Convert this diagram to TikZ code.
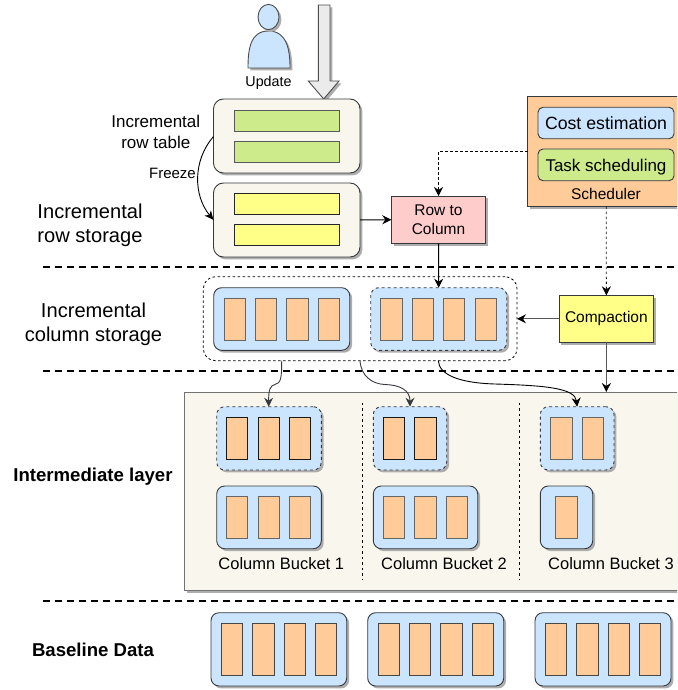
\documentclass[tikz,border=0pt]{standalone}
\usepackage{fontspec}
\setmainfont{Liberation Sans}
\usetikzlibrary{arrows.meta,shadows,calc}
\definecolor{cream}{HTML}{F9F7ED}
\definecolor{lblue}{HTML}{CCE5FF}
\definecolor{lorange}{HTML}{FFCC99}
\definecolor{lgreen}{HTML}{CDEB8B}
\definecolor{lyellow}{HTML}{FFFF88}
\definecolor{lpink}{HTML}{FFCCCC}
\definecolor{edge}{HTML}{36393D}
\tikzset{
  x=1pt,y=-1pt,
  base/.style={inner sep=0pt,outer sep=0pt,line width=0.9pt,draw=edge},
  shad/.style={drop shadow={shadow xshift=2.4pt,shadow yshift=-2.4pt,fill=black!32,opacity=1}},
  col/.style={base,draw=black!60,fill=lorange},
  colk/.style={base,draw=black!90,fill=lorange},
  cole/.style={base,draw=black!72,fill=lorange},
  blockb/.style={base,rectangle,rounded corners=8pt,fill=lblue,shad},
  blockd/.style={base,rectangle,rounded corners=8pt,fill=lblue,dash pattern=on 3pt off 3pt,shad},
  tray/.style={base,rectangle,rounded corners=10pt,fill=cream,shad},
  bar/.style={base,draw=black!65},
  proc/.style={base,shad,align=center},
  innerb/.style={base,rectangle,rounded corners=5pt,align=center},
  lab/.style={inner sep=0pt,outer sep=0pt,align=center},
  sep/.style={line width=1.5pt,dash pattern=on 6.5pt off 5.5pt},
  vsep/.style={line width=0.8pt,dash pattern=on 2.5pt off 3pt},
  flow/.style={line width=1pt,draw=black,-{Stealth[length=9pt,width=9pt,inset=3pt]}},
  flowg/.style={line width=1pt,draw=black!65,-{Stealth[length=9pt,width=9pt,inset=3pt,color=black]}},
  dflow/.style={line width=0.8pt,draw=black,dash pattern=on 2.5pt off 2.5pt,-{Stealth[length=9pt,width=9pt,inset=3pt,color=black]}},
  curve/.style={line width=0.9pt,draw=edge,-{Stealth[length=9pt,width=9pt,inset=3pt]}},
}
% \bx{name}{x1}{y1}{x2}{y2}{style}{text}
\newcommand{\bx}[7]{%
  \pgfmathsetmacro{\bxw}{#4-#2}\pgfmathsetmacro{\bxh}{#5-#3}%
  \pgfmathsetmacro{\bxcx}{(#2+#4)/2}\pgfmathsetmacro{\bxcy}{(#3+#5)/2}%
  \node[#6,minimum width=\bxw pt,minimum height=\bxh pt] (#1) at (\bxcx,\bxcy) {#7};}
\newcommand{\txt}[5]{\node[lab,font=\fontsize{#4}{#5}\selectfont] (#1) at (#2,#3)}
\begin{document}
\begin{tikzpicture}
\useasboundingbox (0,0) rectangle (677,690);
\clip (0,0) rectangle (677,690);

% separators
\coordinate (s1a) at (43,266.8); \coordinate (s1b) at (677,266.8);
\coordinate (s2a) at (43,371); \coordinate (s2b) at (677,371);
\coordinate (s3a) at (43,601); \coordinate (s3b) at (677,601);
\draw[sep] (s1a) -- (s1b);
\draw[sep] (s2a) -- (s2b);
\draw[sep] (s3a) -- (s3b);

% user
\path[base,fill=lblue,draw=black!70,shad] (248,68) .. controls (248,50) and (250,31) .. (268.5,31) .. controls (287,31) and (290,50) .. (290,68) -- cycle;
\node[base,fill=lblue,draw=black!70,shape=circle,minimum size=21pt,yscale=1.2,shad] (head) at (268.5,17) {};
\txt{upd}{268.5}{82.5}{14.3}{17}{Update};

% big arrow
\path[base,fill=black!8,draw=black!70,shad] (318.3,5) -- (330,5) -- (330,81) -- (339,81) -- (323.7,99) -- (308.3,81) -- (318.3,81) -- cycle;

% trays
\bx{t1}{213.5}{99}{360}{173}{tray}{}
\bx{g1}{234.5}{110}{339.5}{131}{bar,fill=lgreen}{}
\bx{g2}{234.5}{141}{339.5}{162}{bar,fill=lgreen}{}
\bx{t2}{213.5}{183}{360}{257}{tray}{}
\bx{y1}{234.5}{193.5}{339.5}{214.5}{bar,draw=black!85,fill=lyellow}{}
\bx{y2}{234.5}{224.5}{339.5}{245.5}{bar,draw=black!85,fill=lyellow}{}
\txt{irt}{155.8}{131.5}{17}{21}{Incremental\\row table};
\txt{frz}{172.5}{173}{15}{17}{Freeze};
\coordinate (t1w) at (213.5,136.5);
\draw[line width=0.9pt,-{Stealth[length=9pt,width=8pt,inset=2.5pt]}] (t1w) .. controls (193,160) and (193,195) .. (t2.west);

% row to column
\bx{r2c}{391.3}{196}{485.7}{243.3}{proc,fill=lpink,font=\fontsize{15.5}{19.5}\selectfont}{Row to\\Column}
\draw[flow] (t2) -- (r2c);

% scheduler
\bx{sch}{527.7}{96.7}{690}{206.7}{proc,fill=lorange}{}
\bx{cost}{538}{107.3}{674}{138.7}{innerb,fill=lblue,font=\fontsize{17.7}{20}\selectfont}{Cost estimation}
\bx{task}{538}{149}{674}{180.7}{innerb,fill=lgreen,text depth=0pt,font=\fontsize{17}{20}\selectfont}{Task scheduling}
\txt{schl}{606}{193.5}{15.5}{18}{Scheduler};
\coordinate (schw) at (527.7,151.5);
\draw[dflow] (schw) -| (r2c.north);

% incremental column storage
\bx{outer}{203.3}{276.7}{517}{360.7}{base,rectangle,rounded corners=12pt,draw=black,line width=0.8pt,dash pattern=on 2.5pt off 2.5pt}{}
\bx{ba}{213.7}{287.7}{349.7}{350.3}{blockb}{}
\bx{ba1}{224}{298}{245.3}{340}{col}{}
\bx{ba2}{255.3}{298}{276.7}{340}{col}{}
\bx{ba3}{286.7}{298}{308}{340}{col}{}
\bx{ba4}{318}{298}{339.3}{340}{col}{}
\bx{bb}{370.7}{287.7}{506.7}{350.3}{blockd}{}
\bx{bb1}{380.7}{298}{402}{340}{col}{}
\bx{bb2}{412}{298}{433.3}{340}{col}{}
\bx{bb3}{443.3}{298}{464.7}{340}{col}{}
\bx{bb4}{475}{298}{496.3}{340}{col}{}
\draw[flow] (r2c.south) -- (bb.north);

% compaction
\bx{cmp}{559}{295.3}{653.7}{342.3}{proc,fill=lyellow,font=\fontsize{15.5}{19}\selectfont}{Compaction}
\coordinate (schs) at (606.3,206.7);
\draw[dflow,draw=black!90] (schs) -- (cmp.north);
\draw[flowg] (cmp.west) -- (cmp.west -| outer.east);

% intermediate layer
\bx{mid}{184.7}{392}{700}{590.7}{base,draw=black!55,fill=cream,shad}{}
\coordinate (v1a) at (362.7,402.7); \coordinate (v1b) at (362.7,580);
\coordinate (v2a) at (519.3,402.7); \coordinate (v2b) at (519.3,580);
\draw[vsep] (v1a) -- (v1b);
\draw[vsep] (v2a) -- (v2b);
\draw[flowg] (cmp.south) -- (cmp.south |- mid.north);

\bx{c1}{216.7}{406.7}{321.3}{470}{blockd}{}
\bx{c11}{226.7}{417.3}{247.7}{459}{colk}{}
\bx{c12}{258}{417.3}{279.3}{459}{colk}{}
\bx{c13}{289.3}{417.3}{310.7}{459}{colk}{}
\bx{d1}{216.7}{486}{321.3}{548.7}{blockb}{}
\bx{d11}{226.7}{496.7}{247.7}{538.3}{col}{}
\bx{d12}{258}{496.7}{279.3}{538.3}{col}{}
\bx{d13}{289.3}{496.7}{310.7}{538.3}{col}{}
\bx{c2}{373.3}{406.7}{446.7}{470}{blockd}{}
\bx{c21}{383.3}{417.3}{404.7}{459}{colk}{}
\bx{c22}{414.7}{417.3}{436}{459}{colk}{}
\bx{d2}{373.3}{486}{477.7}{548.7}{blockb}{}
\bx{d21}{383.3}{496.7}{404.7}{538.3}{col}{}
\bx{d22}{414.7}{496.7}{436}{538.3}{col}{}
\bx{d23}{446}{496.7}{467.3}{538.3}{col}{}
\bx{c3}{540.3}{406.7}{614}{470}{blockd}{}
\bx{c31}{550.7}{417.3}{572}{459}{col}{}
\bx{c32}{582}{417.3}{603.3}{459}{col}{}
\bx{d3}{540.3}{486}{592.7}{548.7}{blockb}{}
\bx{d31}{555.7}{496.7}{577.3}{538.3}{col}{}
\txt{cb1}{281.3}{563.5}{16.5}{19}{Column Bucket 1};
\txt{cb2}{444}{563.5}{16.5}{19}{Column Bucket 2};
\txt{cb3}{611}{563.5}{16.5}{19}{Column Bucket 3};

% curved connectors
\coordinate (o1) at (281.7,360.7);
\coordinate (o2) at (360,360.7);
\coordinate (o3) at (438.3,360.7);
\draw[curve] (o1) .. controls (281.7,378) and (281,383) .. (275,384.5) .. controls (270,385.5) and (268.6,390) .. (c1.north -| c12);
\draw[curve] (o2) .. controls (361,376) and (372,384) .. (385,384.5) .. controls (400,385) and (410,390) .. (c2.north);
\draw[curve,draw=black] (o3) .. controls (439,375) and (460,383) .. (495,384) .. controls (545,385.5) and (575,388) .. (c3.north);

% baseline
\bx{e1}{211}{612.7}{346.7}{686}{blockb}{}
\bx{e11}{221.3}{623.3}{242.7}{675.3}{cole}{}
\bx{e12}{252.7}{623.3}{274}{675.3}{cole}{}
\bx{e13}{284}{623.3}{305.3}{675.3}{cole}{}
\bx{e14}{315.3}{623.3}{336.7}{675.3}{cole}{}
\bx{e2}{367.7}{612.7}{503.7}{686}{blockb}{}
\bx{e21}{378.3}{623.3}{399.7}{675.3}{cole}{}
\bx{e22}{409.3}{623.3}{430.7}{675.3}{cole}{}
\bx{e23}{440.7}{623.3}{462}{675.3}{cole}{}
\bx{e24}{472.3}{623.3}{493.7}{675.3}{cole}{}
\bx{e3}{535}{612.7}{671}{686}{blockb}{}
\bx{e31}{545.3}{623.3}{566.7}{675.3}{cole}{}
\bx{e32}{576.7}{623.3}{598}{675.3}{cole}{}
\bx{e33}{608}{623.3}{629.3}{675.3}{cole}{}
\bx{e34}{639.3}{623.3}{660.7}{675.3}{cole}{}

% side labels
\txt{l1}{90}{225.5}{20.1}{23.5}{Incremental\\row storage};
\txt{l2}{93.5}{324}{20.1}{24}{Incremental\\column storage};
\txt{l3}{93}{476.5}{18.6}{22}{\bfseries Intermediate layer};
\txt{l4}{93}{650}{18.6}{22}{\bfseries Baseline Data};
\end{tikzpicture}
\end{document}
